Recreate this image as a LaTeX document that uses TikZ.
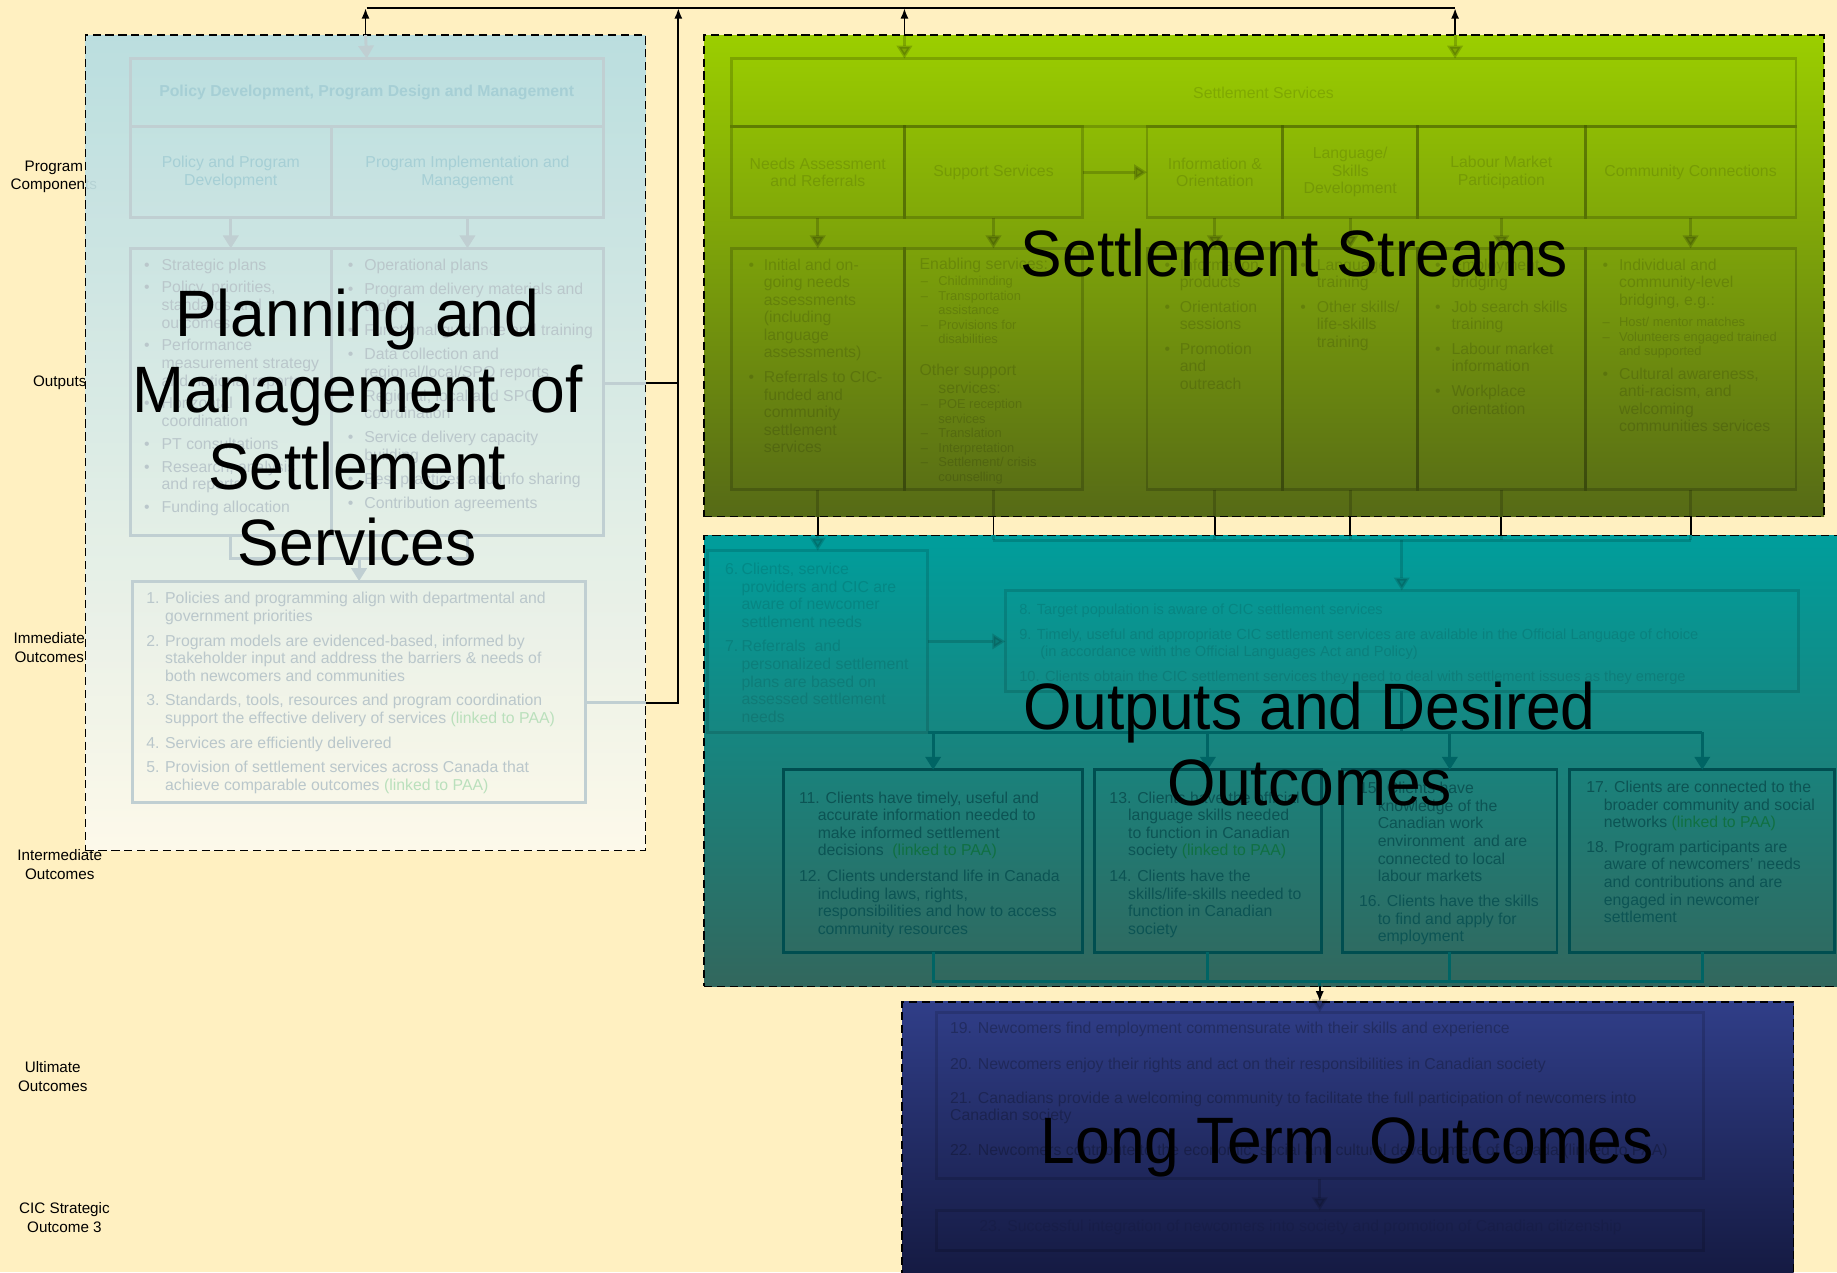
\documentclass[tikz,border=0pt]{standalone}
\usepackage{fontspec}
\setmainfont{Liberation Sans}
\newfontfamily\ttlfont[FakeStretch=0.95]{Liberation Sans}
\usetikzlibrary{arrows.meta}
\definecolor{bgy}{RGB}{255,240,193}
\definecolor{lpTop}{RGB}{182,221,226}
\definecolor{lpBot}{RGB}{253,250,238}
\definecolor{lpLine}{RGB}{192,207,210}
\definecolor{lpTxt}{RGB}{186,199,203}
\definecolor{lpHdr}{RGB}{166,207,213}
\definecolor{lpPaa}{RGB}{186,224,188}
\definecolor{gTop}{RGB}{155,206,0}
\definecolor{gBot}{RGB}{86,106,22}
\definecolor{tTop}{RGB}{0,158,156}
\definecolor{tBot}{RGB}{50,103,93}
\definecolor{tLine}{RGB}{0,78,80}
\definecolor{tCon}{RGB}{0,100,100}
\definecolor{tTxt}{RGB}{12,84,84}
\definecolor{tPaa}{RGB}{16,112,66}
\definecolor{nTop}{RGB}{48,62,136}
\definecolor{nBot}{RGB}{20,25,64}
\newcommand\fsA{\fontsize{13.5}{15}\selectfont}
\newcommand\fsB{\fontsize{11}{12.4}\selectfont}
\newcommand\fsC{\fontsize{12.5}{15}\selectfont}
\newcommand\fsL{\fontsize{13}{16}\selectfont}
\newcommand\fsT{\ttlfont\fontsize{56}{65}\selectfont}
\newcommand\hg[1]{\hspace*{#1pt}}
\tikzset{
 bxbase/.style={anchor=north west, inner sep=0pt, outer sep=0pt, align=center},
 lpbox/.style={bxbase, draw=lpLine, line width=2.5pt, text=lpHdr, font=\fsA},
 gbox/.style={bxbase, draw=black, draw opacity=0.18, line width=2.5pt, text=black, text opacity=0.13, font=\fsA},
 tbxf/.style={bxbase, draw=black, draw opacity=0.13, line width=2.5pt},
 tbxd/.style={bxbase, draw=tLine, line width=2.5pt},
 nbx/.style={bxbase, draw=black, draw opacity=0.14, line width=2.5pt},
 txtbase/.style={anchor=north west, inner sep=0pt, outer sep=0pt, font=\fsA},
 lptxt/.style={txtbase, text=lpTxt},
 gtxt/.style={txtbase, text=black, text opacity=0.14},
 tftxt/.style={txtbase, text=black, text opacity=0.11},
 tdtxt/.style={txtbase, text=tTxt},
 ntxt/.style={txtbase, text=black, text opacity=0.25},
 lbl/.style={inner sep=0pt, align=center, font=\fsL, text=black},
 ttl/.style={inner sep=0pt, align=center, font=\fsT, text=black},
 panel/.style={bxbase, draw=black, line width=1.4pt, dash pattern=on 7pt off 4pt},
 lpline/.style={draw=lpLine, line width=2.5pt},
 lparr/.style={lpline, -{Triangle[length=11pt,width=13pt]}},
 gline/.style={draw=black, opacity=0.18, line width=2.5pt},
 garr/.style={gline, -{Triangle[length=11pt,width=13pt]}},
 tlinef/.style={draw=black, opacity=0.15, line width=2.5pt},
 tarrf/.style={tlinef, -{Triangle[length=11pt,width=13pt]}},
 tline/.style={draw=tCon, line width=2.5pt},
 tarr/.style={tline, -{Triangle[length=11pt,width=13pt]}},
 nline/.style={draw=black, opacity=0.15, line width=2.5pt},
 narr/.style={nline, -{Triangle[length=11pt,width=13pt]}},
 blk/.style={draw=black, line width=1.6pt},
 blkarr/.style={blk, -{Latex[length=9pt,width=7pt]}},
}
\begin{document}
\begin{tikzpicture}[x=1pt,y=-1pt]
\useasboundingbox (0,0) rectangle (1568,1086);
\clip (0,0) rectangle (1568,1086);
\fill[bgy] (0,0) rectangle (1568,1086);

% ---------- row labels
\node[lbl] (lProg) at (46,151) {Program\\Components};
\node[lbl] (lOut) at (51,327) {Outputs};
\node[lbl] (lImm) at (42,553) {Immediate\\Outcomes};
\node[lbl] (lInt) at (51,738) {Intermediate\\Outcomes};
\node[lbl] (lUlt) at (45,919) {Ultimate\\Outcomes};
\node[lbl] (lCIC) at (55,1039) {CIC Strategic\\Outcome 3};

% ---------- panels
\node[panel, minimum width=478pt, minimum height=696pt, top color=lpTop, bottom color=lpBot, fill opacity=0.93] (P1) at (73,30) {};
\node[panel, minimum width=956pt, minimum height=411pt, top color=gTop, bottom color=gBot] (P2) at (601,30) {};
\node[panel, minimum width=975pt, minimum height=385pt, top color=tTop, bottom color=tBot] (P3) at (601,457) {};
\node[panel, minimum width=761pt, minimum height=240pt, top color=nTop, bottom color=nBot] (P4) at (770,855) {};

% ---------- left panel content
\node[lpbox, font=\fsA\bfseries, minimum width=404pt, minimum height=58pt] (pd) at (111,50) {Policy Development, Program Design and Management};
\node[lpbox, minimum width=172pt, minimum height=78pt] (ppd) at (111,108) {Policy and Program\\Development};
\node[lpbox, minimum width=232pt, minimum height=78pt] (pim) at (283,108) {Program Implementation and\\Management};
\node[lpbox, minimum width=172pt, minimum height=245pt] (outL) at (111,212) {};
\node[lpbox, minimum width=232pt, minimum height=245pt] (outR) at (283,212) {};
\node[lpbox, minimum width=387pt, minimum height=189pt] (imm) at (113,496) {};

\node[lptxt] (outLt) at (123,220) {\begin{tabular}{@{}p{15pt}@{}l@{}}
• & Strategic plans\\[4.5pt]
• & Policy, priorities,\\ & standards and\\ & outcomes\\[4.5pt]
• & Performance\\ & measurement strategy\\ & and national reports\\[4.5pt]
• & Horizontal\\ & coordination\\[4.5pt]
• & PT consultations\\[4.5pt]
• & Research, analysis\\ & and reports\\[4.5pt]
• & Funding allocation
\end{tabular}};
\node[lptxt] (outRt) at (297,220) {\begin{tabular}{@{}p{14pt}@{}l@{}}
• & Operational plans\\[5.5pt]
• & Program delivery materials and\\ & tools\\[5.5pt]
• & Functional guidance and training\\[5.5pt]
• & Data collection and\\ & regional/local/SPO reports\\[5.5pt]
• & Regional, local and SPO\\ & coordination\\[5.5pt]
• & Service delivery capacity\\ & building\\[5.5pt]
• & Best practices and info sharing\\[5.5pt]
• & Contribution agreements
\end{tabular}};
\node[lptxt] (immt) at (125,505) {\begin{tabular}{@{}p{16pt}@{}l@{}}
1. & Policies and programming align with departmental and\\ & government priorities\\[6pt]
2. & Program models are evidenced-based, informed by\\ & stakeholder input and address the barriers \& needs of\\ & both newcomers and communities\\[6pt]
3. & Standards, tools, resources and program coordination\\ & support the effective delivery of services \textcolor{lpPaa}{(linked to PAA)}\\[6pt]
4. & Services are efficiently delivered\\[6pt]
5. & Provision of settlement services across Canada that\\ & achieve comparable outcomes \textcolor{lpPaa}{(linked to PAA)}
\end{tabular}};

\draw[lparr] (P1.north) -- (pd.north);
\draw[lparr] (ppd.south) -- (outL.north);
\draw[lparr] (pim.south) -- (outR.north);
\coordinate (bjL) at (306.5,477);
\draw[lpline] (outL.south) |- (bjL) -| (outR.south);
\draw[lparr] (bjL) -- (imm.north);
\coordinate (fbO) at (515,327);
\coordinate (fbO2) at (551,327);
\coordinate (fbI) at (500,600);
\coordinate (fbI2) at (551,600);
\draw[lpline] (fbO) -- (fbO2);
\draw[lpline] (fbI) -- (fbI2);

% ---------- green panel content
\node[gbox, minimum width=909pt, minimum height=58pt] (ss) at (624,50) {Settlement Services};
\node[gbox, minimum width=148pt, minimum height=78pt] (na) at (624,108) {Needs Assessment\\and Referrals};
\node[gbox, minimum width=152pt, minimum height=78pt] (sup) at (772,108) {Support Services};
\node[gbox, minimum width=116pt, minimum height=78pt] (io) at (979,108) {Information \&\\Orientation};
\node[gbox, minimum width=115pt, minimum height=78pt] (lang) at (1095,108) {Language/\\Skills\\Development};
\node[gbox, minimum width=143pt, minimum height=78pt] (lm) at (1210,108) {Labour Market\\Participation};
\node[gbox, minimum width=180pt, minimum height=78pt] (cc) at (1353,108) {Community Connections};
\node[gbox, minimum width=148pt, minimum height=206pt] (naO) at (624,212) {};
\node[gbox, minimum width=152pt, minimum height=206pt] (supO) at (772,212) {};
\node[gbox, minimum width=116pt, minimum height=206pt] (ioO) at (979,212) {};
\node[gbox, minimum width=115pt, minimum height=206pt] (langO) at (1095,212) {};
\node[gbox, minimum width=143pt, minimum height=206pt] (lmO) at (1210,212) {};
\node[gbox, minimum width=180pt, minimum height=206pt] (ccO) at (1353,212) {};

\node[gtxt] (naT) at (639,220) {\begin{tabular}{@{}p{13pt}@{}l@{}}
• & Initial and on-\\ & going needs\\ & assessments\\ & (including\\ & language\\ & assessments)\\[6pt]
• & Referrals to CIC-\\ & funded and\\ & community\\ & settlement\\ & services
\end{tabular}};
\node[gtxt] (supT1) at (785,220) {Enabling services:};
\node[gtxt, font=\fsB] (supT2) at (786,235) {\begin{tabular}{@{}p{15pt}@{}l@{}}
– & Childminding\\ – & Transportation\\ & assistance\\ – & Provisions for\\ & disabilities
\end{tabular}};
\node[gtxt] (supT3) at (785,310) {\begin{tabular}{@{}l@{}}Other support\\\hspace*{16pt}services:\end{tabular}};
\node[gtxt, font=\fsB] (supT4) at (786,340) {\begin{tabular}{@{}p{15pt}@{}l@{}}
– & POE reception\\ & services\\ – & Translation\\ – & Interpretation\\ – & Settlement/ crisis\\ & counselling
\end{tabular}};
\node[gtxt] (ioT) at (994,220) {\begin{tabular}{@{}p{13pt}@{}l@{}}
• & Information\\ & products\\[6pt]
• & Orientation\\ & sessions\\[6pt]
• & Promotion\\ & and\\ & outreach
\end{tabular}};
\node[gtxt] (langT) at (1110,220) {\begin{tabular}{@{}p{14pt}@{}l@{}}
• & Language\\ & training\\[6pt]
• & Other skills/\\ & life-skills\\ & training
\end{tabular}};
\node[gtxt] (lmT) at (1225,220) {\begin{tabular}{@{}p{14pt}@{}l@{}}
• & Employment\\ & bridging\\[6pt]
• & Job search skills\\ & training\\[6pt]
• & Labour market\\ & information\\[6pt]
• & Workplace\\ & orientation
\end{tabular}};
\node[gtxt] (ccT1) at (1368,220) {\begin{tabular}{@{}p{14pt}@{}l@{}}
• & Individual and\\ & community-level\\ & bridging, e.g.:
\end{tabular}};
\node[gtxt, font=\fsB] (ccT2) at (1368,270) {\begin{tabular}{@{}p{14pt}@{}l@{}}
– & Host/ mentor matches\\ – & Volunteers engaged trained\\ & and supported
\end{tabular}};
\node[gtxt] (ccT3) at (1368,313) {\begin{tabular}{@{}p{14pt}@{}l@{}}
• & Cultural awareness,\\ & anti-racism, and\\ & welcoming\\ & communities services
\end{tabular}};

\coordinate (gA) at (772,30);
\coordinate (gB) at (1242,30);
\draw[garr] (gA) -- (gA |- ss.north);
\draw[garr] (gB) -- (gB |- ss.north);
\draw[garr] (sup.east) -- (io.west);
\draw[garr] (na.south) -- (naO.north);
\draw[garr] (sup.south) -- (supO.north);
\draw[garr] (io.south) -- (ioO.north);
\draw[garr] (lang.south) -- (langO.north);
\draw[garr] (lm.south) -- (lmO.north);
\draw[garr] (cc.south) -- (ccO.north);
\foreach \c in {naO,supO,ioO,langO,lmO,ccO}{
  \draw[gline] (\c.south) -- (\c.south |- P2.south);
}

% ---------- teal panel content
\node[tbxf, minimum width=188pt, minimum height=155pt] (b67) at (604,470) {};
\node[tbxf, minimum width=677pt, minimum height=86pt] (b810) at (858,504) {};
\node[tbxd, minimum width=255pt, minimum height=156pt] (bA) at (669,657) {};
\node[tbxd, minimum width=194pt, minimum height=156pt] (bB) at (934,657) {};
\node[tbxd, minimum width=183pt, minimum height=156pt] (bC) at (1146,657) {};
\node[tbxd, minimum width=226pt, minimum height=156pt] (bD) at (1340,657) {};

\node[tftxt] (b67t) at (619,480) {\begin{tabular}{@{}p{14pt}@{}l@{}}
6. & Clients, service\\ & providers and CIC are\\ & aware of newcomer\\ & settlement needs\\[6pt]
7. & Referrals\ \ and\\ & personalized settlement\\ & plans are based on\\ & assessed settlement\\ & needs
\end{tabular}};
\node[tftxt, font=\fsC] (b810t) at (870,514) {\begin{tabular}{@{}l@{}}
8. Target population is aware of CIC settlement services\\[6pt]
9. Timely, useful and appropriate CIC settlement services are available in the Official Language of choice\\
\hspace*{18pt}(in accordance with the Official Languages Act and Policy)\\[6pt]
10. Clients obtain the CIC settlement services they need to deal with settlement issues as they emerge
\end{tabular}};
\node[tdtxt] (bAt) at (682,675) {\begin{tabular}{@{}l@{}}
11. Clients have timely, useful and\\ \hg{16}accurate information needed to\\ \hg{16}make informed settlement\\ \hg{16}decisions\ \ \textcolor{tPaa}{(linked to PAA)}\\[7pt]
12. Clients understand life in Canada\\ \hg{16}including laws, rights,\\ \hg{16}responsibilities and how to access\\ \hg{16}community resources
\end{tabular}};
\node[tdtxt] (bBt) at (947,675) {\begin{tabular}{@{}l@{}}
13. Clients have the official\\ \hg{16}language skills needed\\ \hg{16}to function in Canadian\\ \hg{16}society \textcolor{tPaa}{(linked to PAA)}\\[7pt]
14. Clients have the\\ \hg{16}skills/life-skills needed to\\ \hg{16}function in Canadian\\ \hg{16}society
\end{tabular}};
\node[tdtxt] (bCt) at (1160,667) {\begin{tabular}{@{}l@{}}
15. Clients have\\ \hg{16}knowledge of the\\ \hg{16}Canadian work\\ \hg{16}environment\ \ and are\\ \hg{16}connected to local\\ \hg{16}labour markets\\[6.5pt]
16. Clients have the skills\\ \hg{16}to find and apply for\\ \hg{16}employment
\end{tabular}};
\node[tdtxt] (bDt) at (1354,666) {\begin{tabular}{@{}l@{}}
17. Clients are connected to the\\ \hg{15}broader community and social\\ \hg{15}networks \textcolor{tPaa}{(linked to PAA)}\\[6pt]
18. Program participants are\\ \hg{15}aware of newcomers’ needs\\ \hg{15}and contributions and are\\ \hg{15}engaged in newcomer\\ \hg{15}settlement
\end{tabular}};

\coordinate (tjy) at (0,461);
\coordinate (bjy) at (0,838);
\draw[tlinef] (supO.south |- tjy) -- (ccO.south |- tjy);
\foreach \c in {supO,ioO,langO,lmO,ccO}{
  \draw[tlinef] (\c.south |- P3.north) -- (\c.south |- tjy);
}
\draw[tarrf] (naO.south |- P3.north) -- (b67.north);
\draw[tarrf] (b810.north |- tjy) -- (b810.north);
\draw[tarrf] (b67.east) -- (b810.west |- b67.east);
\draw[tline] (b810.south) -- (b810.south |- b67.south);
\draw[tline] (b67.south east) -- (bD.north |- b67.south);
\foreach \b in {bA,bB,bC,bD}{
  \draw[tarr] (\b.north |- b67.south) -- (\b.north);
}
\draw[tline] (bA.south) -- (bA.south |- bjy) -- (bD.south |- bjy) -- (bD.south);
\draw[tline] (bB.south) -- (bB.south |- bjy);
\draw[tline] (bC.south) -- (bC.south |- bjy);

% ---------- navy panel content
\node[nbx, minimum width=655pt, minimum height=142pt] (b1922) at (799,864) {};
\node[nbx, minimum width=655pt, minimum height=34pt] (b23) at (799,1033) {};
\node[ntxt] (b1922t) at (811,872) {\begin{tabular}{@{}l@{}}
19. Newcomers find employment commensurate with their skills and experience\\[15pt]
20. Newcomers enjoy their rights and act on their responsibilities in Canadian society\\[14pt]
21. Canadians provide a welcoming community to facilitate the full participation of newcomers into\\
Canadian society\\[15pt]
22. Newcomers contribute to the economic, social and cultural development of Canada (linked to PAA)
\end{tabular}};
\node[txtbase, text=black, text opacity=0.08] (b23t) at (836,1041) {23. Successful integration of newcomers into society and promotion of Canadian citizenship};

\draw[tline] (b1922.north |- bjy) -- (b1922.north |- P3.south);
\draw[narr] (b1922.north |- P4.north) -- (b1922.north);
\draw[narr] (b1922.south) -- (b23.north);

% ---------- black connectors
\coordinate (busL) at (313,7);
\coordinate (busR) at (1242,7);
\coordinate (fbTop) at (579,7);
\draw[blk] (busL) -- (busR);
\draw[blkarr] (P1.north) -- (P1.north |- busL);
\draw[blkarr] (gA) -- (gA |- busL);
\draw[blkarr] (gB) -- (gB |- busL);
\draw[blk] (fbO2) -- (fbO2 -| fbTop);
\draw[blkarr] (fbI2) -| (fbTop);
\foreach \c in {naO,supO,ioO,langO,lmO,ccO}{
  \draw[blk] (\c.south |- P2.south) -- (\c.south |- P3.north);
}
\draw[blkarr] (b1922.north |- P3.south) -- (b1922.north |- P4.north);

% ---------- titles
\node[ttl] (tPlan) at (305,365) {Planning and\\Management\ \ of\\Settlement\\Services};
\node[ttl, anchor=base] (tSet) at (1105,236) {Settlement Streams};
\node[ttl] (tOut) at (1118,635) {Outputs and Desired\\Outcomes};
\node[ttl, anchor=base] (tLong) at (1150,993) {Long Term\ \ Outcomes};
\end{tikzpicture}
\end{document}
